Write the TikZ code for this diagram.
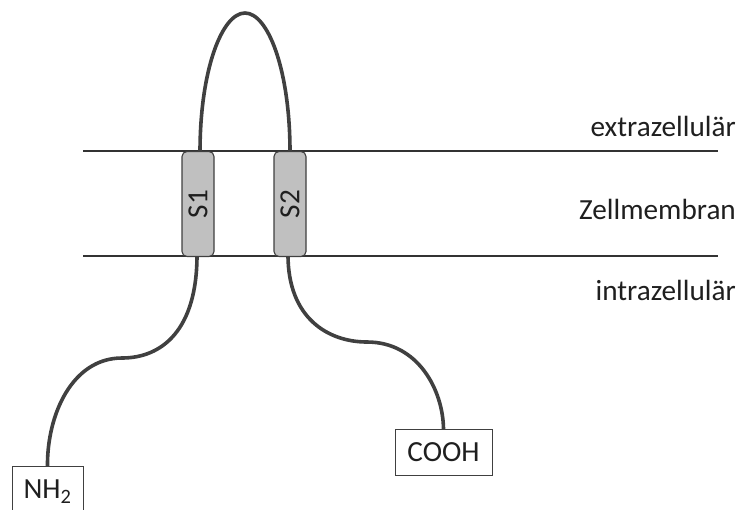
\documentclass[tikz,border=0pt]{standalone}
\usepackage{fontspec}
\setmainfont{Carlito}
\definecolor{chain}{HTML}{404040}
\definecolor{memb}{HTML}{333333}
\definecolor{segfill}{HTML}{C0C0C0}
\begin{document}
\begin{tikzpicture}[x=1pt,y=-1pt,
  every node/.style={font=\fontsize{29.2}{35}\selectfont, text=black!88},
  membline/.style={draw=memb, line width=1.4pt},
  chainline/.style={draw=chain, line width=3.6pt},
  segbox/.style={draw=chain, fill=segfill, line width=1.1pt, rounded corners=5pt,
    minimum width=32pt, minimum height=105pt, inner sep=0pt},
  termbox/.style={draw=chain, fill=white, line width=1pt, minimum height=46pt, inner sep=0pt},
  sidelabel/.style={anchor=base east, inner sep=0pt}]
\useasboundingbox (0,0) rectangle (743,509);
% membrane
\coordinate (t1) at (83,151);
\coordinate (t2) at (718,151);
\coordinate (b1) at (83,256);
\coordinate (b2) at (718,256);
\draw[membline] (t1) -- (t2);
\draw[membline] (b1) -- (b2);
% chains
\node[termbox, minimum width=71pt, minimum height=50pt, anchor=north] (nh) at (47.5,466) {NH\textsubscript{2}};
\node[termbox, minimum width=97pt, anchor=north] (cooh) at (443.5,429) {COOH};
\coordinate (s1t) at (200,152);
\coordinate (s2t) at (290,152);
\draw[chainline] (s1t) .. controls (200,70) and (222,13) .. (245,13)
  .. controls (268,13) and (290,70) .. (s2t);
\coordinate (s1b) at (197,255);
\coordinate (s2b) at (288,255);
\draw[chainline] (s1b) .. controls (197,330) and (162,358) .. (122,358)
  .. controls (72,358) and (47,415) .. (nh.north);
\draw[chainline] (s2b) .. controls (288,318) and (328,342) .. (367,342)
  .. controls (418,342) and (443,390) .. (cooh.north);
% segments
\node[segbox] (s1) at (198,204) {\rotatebox{90}{S1}};
\node[segbox] (s2) at (290,204) {\rotatebox{90}{S2}};
% labels
\node[sidelabel] (ex) at (736,136) {extrazellulär};
\node[sidelabel] (zm) at (736,219) {Zellmembran};
\node[sidelabel] (in) at (736,300) {intrazellulär};
\end{tikzpicture}
\end{document}
